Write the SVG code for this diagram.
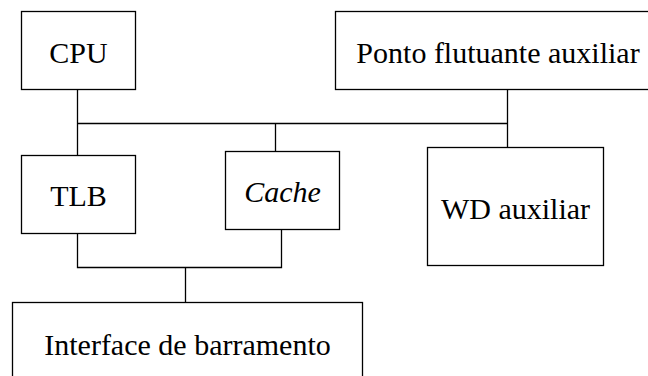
<svg xmlns="http://www.w3.org/2000/svg" width="648" height="376" viewBox="0 0 648 376">
<style>
.box{fill:#fff;stroke:#000;stroke-width:1.3}
.lbl{font-size:30px;fill:#000;text-anchor:middle}
.conn{fill:none;stroke:#000;stroke-width:1.3}
</style>
<rect width="648" height="376" fill="#fff"/>
<g id="connectors">
<path class="conn" d="M77.5 89.5V155.5M77.5 123.5H507.5M275.5 123.5V151.5M507.5 89.5V147.5"/>
<path class="conn" d="M77.5 233.5V267.5H281.5V229.5M185.5 267.5V302.5"/>
</g>
<g font-family="Liberation Serif, Times New Roman, serif">
<g id="cpu"><rect class="box" x="21.5" y="11.5" width="114" height="78"/><text class="lbl" x="78.5" y="63">CPU</text></g>
<g id="fpu"><rect class="box" x="335.5" y="11.5" width="325" height="78"/><text class="lbl" x="498" y="63">Ponto flutuante auxiliar</text></g>
<g id="tlb"><rect class="box" x="21.5" y="155.5" width="114" height="78"/><text class="lbl" x="78.5" y="206">TLB</text></g>
<g id="cache"><rect class="box" x="225.5" y="151.5" width="114" height="78"/><text class="lbl" x="282.5" y="202" font-style="italic">Cache</text></g>
<g id="wd"><rect class="box" x="427.5" y="147.5" width="176" height="118"/><text class="lbl" x="515.5" y="219">WD auxiliar</text></g>
<g id="bus"><rect class="box" x="12.5" y="302.5" width="350" height="90"/><text class="lbl" x="187.5" y="355">Interface de barramento</text></g>
</g>
</svg>
